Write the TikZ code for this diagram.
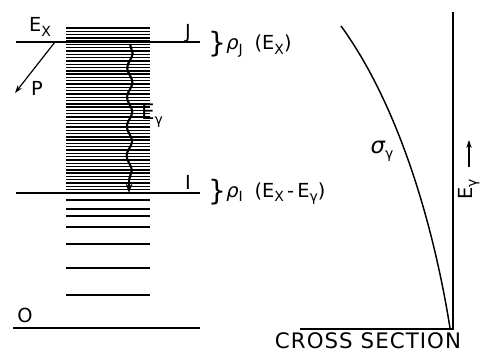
\documentclass[tikz,border=0pt]{standalone}
\usepackage{fontspec}
\setmainfont{DejaVu Sans}
\usetikzlibrary{decorations.pathmorphing,arrows.meta}
\newcommand\lowsub[1]{\raisebox{-0.4ex}{\fontsize{10.5}{10.5}\selectfont #1}}
\begin{document}
\begin{tikzpicture}[x=0.75pt,y=-0.75pt,
  level/.style={line width=1pt},
  hatch/.style={line width=1.05pt},
  lbl/.style={inner sep=0pt,font=\fontsize{14.5}{14.5}\selectfont},
  brc/.style={inner sep=0pt,font=\fontsize{21}{21}\selectfont},
  arr/.style={line width=0.9pt,-{Stealth[length=6pt,width=4pt]}},
]
\useasboundingbox (0,0) rectangle (480,352);
% dense hatching (continuum of levels)
\foreach \y in {28,31.3,...,191} \draw[hatch] (66,\y) -- (150,\y);
% discrete levels
\foreach \y in {200,209,216,227,244,268,295} \draw[hatch] (66,\y) -- (150,\y);
% main levels
\draw[level] (16,42) -- (200,42);
\draw[level] (16,193) -- (200,193);
\draw[level] (13,328) -- (200,328);
% labels on the level scheme
\node[lbl] (ex) at (40,27) {E\lowsub{X}};
\node[lbl] (j) at (188,33) {J};
\node[lbl] (i) at (188,182) {I};
\node[lbl] (o) at (25,315) {O};
\node[lbl] (p) at (37,88) {P};
\coordinate (ps) at (55,42);
\coordinate (pe) at (15,93);
\draw[arr] (ps) -- (pe);
% gamma transition
\coordinate (w1) at (130,44);
\coordinate (w2) at (129,193);
\draw[line width=1.6pt,decorate,decoration={snake,amplitude=2pt,segment length=22pt,post length=7pt},-{Stealth[length=7pt,width=5pt]}] (w1) -- (w2);
\node[lbl,font=\fontsize{16}{16}\selectfont] (eg) at (152,116) {E\lowsub{γ}};
% level densities
\node[brc] (b1) at (217,44) {\}};
\node[lbl,anchor=west] (rj) at (226,46) {\itshape ρ\upshape\lowsub{J}\hspace{9pt}(E\lowsub{X})};
\node[brc] (b2) at (217,192) {\}};
\node[lbl,anchor=west] (ri) at (226,194) {\itshape ρ\upshape\lowsub{I}\hspace{9pt}(E\lowsub{X}\,-\,E\lowsub{γ})};
% cross section plot
\coordinate (ytop) at (453,12);
\coordinate (orig) at (453,329);
\coordinate (xl) at (300,329);
\draw[level] (ytop) -- (orig) -- (xl);
\coordinate (c0) at (341,26);
\coordinate (c3) at (450,328);
\draw[line width=1.1pt] (c0) .. controls (395,100) and (432,215) .. (c3);
\node[lbl,font=\fontsize{17}{17}\selectfont] (sg) at (382,151) {\itshape σ\upshape\lowsub{γ}};
\coordinate (ad) at (469,167);
\coordinate (au) at (469,140);
\draw[arr] (ad) -- (au);
\node[lbl,rotate=90] (ega) at (469,189) {E\lowsub{γ}};
\node[inner sep=0pt,font=\fontsize{16}{16}\selectfont\addfontfeature{LetterSpace=5}] (cs) at (368,340.5) {CROSS SECTION};
\end{tikzpicture}
\end{document}
